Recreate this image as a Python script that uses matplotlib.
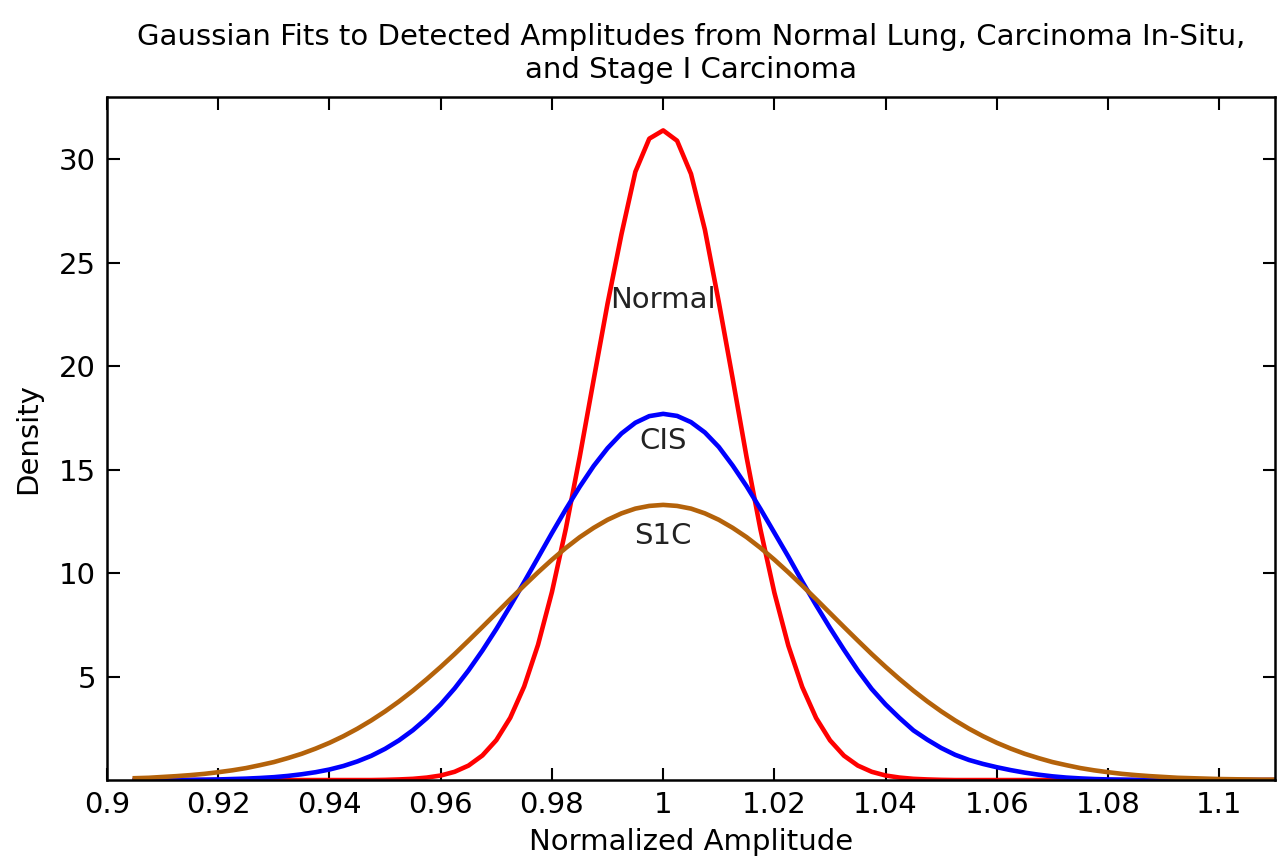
import numpy as np
import matplotlib
matplotlib.use("Agg")
import matplotlib.pyplot as plt
from matplotlib.ticker import FormatStrFormatter

# sample positions (normalized amplitude), step 0.0025
amplitude = np.linspace(0.905, 1.11, 83)

normal = [0.0] * 18 + [
    0.01, 0.03, 0.06, 0.12, 0.22, 0.40, 0.70, 1.19, 1.93, 3.01,
    4.52, 6.54, 9.09, 12.15, 15.63, 19.35, 23.03, 26.38, 29.4, 31.0,
    31.4,
    30.9, 29.3, 26.6, 23.1, 19.4, 15.6, 12.1, 9.05, 6.5, 4.5,
    3.0, 1.92, 1.18, 0.70, 0.40, 0.22, 0.12, 0.06, 0.03, 0.01,
] + [0.0] * 24

cis = [
    0.0, 0.0, 0.0, 0.01, 0.01, 0.02, 0.03, 0.05, 0.07, 0.10,
    0.14, 0.20, 0.28, 0.38, 0.51, 0.68, 0.90, 1.17, 1.51, 1.92,
    2.41, 2.99, 3.66, 4.43, 5.30, 6.26, 7.30, 8.41, 9.57, 10.75,
    11.94, 13.09, 14.18, 15.18, 16.04, 16.75, 17.27, 17.59,
    17.7,
    17.6, 17.3, 16.8, 16.1, 15.2, 14.2, 13.1, 11.95, 10.8, 9.6,
    8.45, 7.35, 6.3, 5.3, 4.4, 3.65, 3.0, 2.4, 1.95, 1.55,
    1.22, 0.97, 0.78, 0.62, 0.48, 0.36, 0.26, 0.18, 0.12, 0.08,
    0.05, 0.03, 0.02, 0.01, 0.01,
] + [0.0] * 9

s1c = [
    0.09, 0.11, 0.15, 0.19, 0.24, 0.30, 0.38, 0.47, 0.58, 0.72,
    0.87, 1.06, 1.27, 1.52, 1.80, 2.12, 2.48, 2.88, 3.32, 3.80,
    4.32, 4.88, 5.47, 6.09, 6.74, 7.40, 8.07, 8.74, 9.40, 10.04,
    10.65, 11.22, 11.74, 12.19, 12.58, 12.89, 13.12, 13.25,
    13.3,
    13.25, 13.12, 12.89, 12.58, 12.19, 11.74, 11.22, 10.65, 10.04, 9.40,
    8.74, 8.07, 7.40, 6.74, 6.09, 5.47, 4.88, 4.32, 3.80, 3.32,
    2.88, 2.48, 2.12, 1.80, 1.52, 1.27, 1.06, 0.87, 0.72, 0.58,
    0.47, 0.38, 0.30, 0.24, 0.19, 0.15, 0.11, 0.09, 0.07, 0.05,
    0.04, 0.03, 0.02, 0.02,
]

x_ticks = [0.9, 0.92, 0.94, 0.96, 0.98, 1.0, 1.02, 1.04, 1.06, 1.08, 1.1]
y_ticks = [5, 10, 15, 20, 25, 30]

fig = plt.figure(figsize=(12.77, 8.61), dpi=100)
ax = fig.add_axes([0.0838, 0.094, 0.9146, 0.793])

ax.plot(amplitude, normal, color="#ff0000", lw=3.3)
ax.plot(amplitude, cis, color="#0000ff", lw=3.3)
ax.plot(amplitude, s1c, color="#b4620a", lw=3.3)

ax.text(1.0, 23.2, "Normal", ha="center", va="center", fontsize=21, color="#222222")
ax.text(1.0, 16.4, "CIS", ha="center", va="center", fontsize=21, color="#222222")
ax.text(1.0, 11.8, "S1C", ha="center", va="center", fontsize=21, color="#222222")

ax.set_xlim(0.9, 1.11)
ax.set_ylim(0, 33)
ax.set_xticks(x_ticks)
ax.set_yticks(y_ticks)
ax.xaxis.set_major_formatter(FormatStrFormatter("%g"))
ax.tick_params(direction="in", length=9, width=1.5, labelsize=21,
               top=True, right=True, pad=8)
for s in ax.spines.values():
    s.set_linewidth(1.8)

ax.set_xlabel("Normalized Amplitude", fontsize=21, labelpad=6)
ax.set_ylabel("Density", fontsize=21, labelpad=12)
ax.set_title("Gaussian Fits to Detected Amplitudes from Normal Lung, Carcinoma In-Situ,\n"
             "and Stage I Carcinoma", fontsize=21, pad=14, linespacing=1.2)

fig.savefig("out.png", dpi=100)
